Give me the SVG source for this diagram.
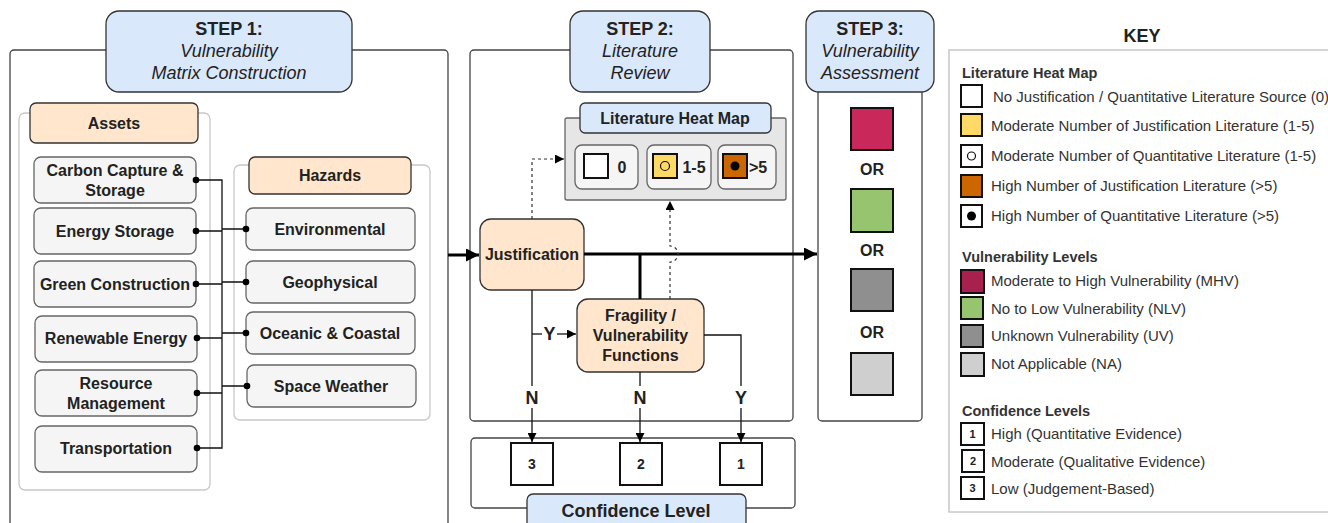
<svg xmlns="http://www.w3.org/2000/svg" width="1328" height="523" viewBox="0 0 1328 523">
<defs>
<style>
text{font-family:"Liberation Sans",Arial,sans-serif;fill:#222;}
.b{font-weight:bold;}
.hdr{fill:#dae8fc;stroke:#333;stroke-width:1.3;}
.org{fill:#ffe6cc;stroke:#333;stroke-width:1.3;}
.box{fill:#f5f5f5;stroke:#666;stroke-width:1.3;}
.grp{fill:#fff;stroke:#c8c8c8;stroke-width:1.3;}
.outer{fill:#fff;stroke:#444;stroke-width:1.3;}
.ln{fill:none;stroke:#111;stroke-width:1.3;}
.thick{fill:none;stroke:#000;stroke-width:3;}
.dash{fill:none;stroke:#333;stroke-width:1.2;stroke-dasharray:3,3;}
.sq{stroke:#111;stroke-width:2;}
.kt{font-size:15px;fill:#333;}
.kh{font-size:14.5px;font-weight:bold;fill:#333;}
</style>
<marker id="ah" viewBox="0 0 10 10" refX="10" refY="5" markerWidth="9" markerHeight="9" markerUnits="userSpaceOnUse" orient="auto"><path d="M0,0 L10,5 L0,10 z" fill="#000"/></marker>
<marker id="ahd" viewBox="0 0 10 10" refX="10" refY="5" markerWidth="9" markerHeight="9" markerUnits="userSpaceOnUse" orient="auto"><path d="M0,0 L10,5 L0,10 z" fill="#000"/></marker>
<marker id="ahb" viewBox="0 0 10 10" refX="10" refY="5" markerWidth="13" markerHeight="13" markerUnits="userSpaceOnUse" orient="auto"><path d="M0,0 L10,5 L0,10 z" fill="#000"/></marker>
</defs>
<rect width="1328" height="523" fill="#fff"/>

<!-- STEP 1 -->
<g id="step1">
<rect class="outer" x="10" y="50" width="438" height="500" rx="4"/>
<rect class="hdr" x="106" y="11" width="246" height="81" rx="13"/>
<text class="b" x="229" y="35" font-size="18" text-anchor="middle">STEP 1:</text>
<text x="229" y="57" font-size="18" font-style="italic" text-anchor="middle">Vulnerability</text>
<text x="229" y="79" font-size="18" font-style="italic" text-anchor="middle">Matrix Construction</text>
</g>

<g id="assets-group">
<rect class="grp" x="19" y="113" width="191" height="377" rx="6"/>
<rect class="org" x="30" y="103" width="168" height="40" rx="6"/>
<text class="b" x="114" y="129" font-size="16" text-anchor="middle">Assets</text>
</g>
<g id="asset-ccs"><rect class="box" x="34" y="157" width="162" height="46" rx="7"/><text class="b" x="115" y="176" font-size="16" text-anchor="middle">Carbon Capture &amp;</text><text class="b" x="115" y="196" font-size="16" text-anchor="middle">Storage</text></g>
<g id="asset-es"><rect class="box" x="34" y="208" width="162" height="46" rx="7"/><text class="b" x="115" y="237" font-size="16" text-anchor="middle">Energy Storage</text></g>
<g id="asset-gc"><rect class="box" x="34" y="261" width="162" height="46" rx="7"/><text class="b" x="115" y="290" font-size="16" text-anchor="middle">Green Construction</text></g>
<g id="asset-re"><rect class="box" x="35" y="316" width="162" height="46" rx="7"/><text class="b" x="116" y="344" font-size="16" text-anchor="middle">Renewable Energy</text></g>
<g id="asset-rm"><rect class="box" x="35" y="370" width="162" height="46" rx="7"/><text class="b" x="116" y="389" font-size="16" text-anchor="middle">Resource</text><text class="b" x="116" y="409" font-size="16" text-anchor="middle">Management</text></g>
<g id="asset-tr"><rect class="box" x="35" y="426" width="162" height="46" rx="7"/><text class="b" x="116" y="454" font-size="16" text-anchor="middle">Transportation</text></g>

<g id="hazards-group">
<rect class="grp" x="234" y="165" width="196" height="255" rx="6"/>
<rect class="org" x="249" y="157" width="162" height="37" rx="6"/>
<text class="b" x="330" y="181" font-size="16" text-anchor="middle">Hazards</text>
</g>
<g id="haz-env"><rect class="box" x="246" y="208" width="169" height="42" rx="7"/><text class="b" x="330" y="235" font-size="16" text-anchor="middle">Environmental</text></g>
<g id="haz-geo"><rect class="box" x="246" y="261" width="169" height="42" rx="7"/><text class="b" x="330" y="288" font-size="16" text-anchor="middle">Geophysical</text></g>
<g id="haz-oc"><rect class="box" x="246" y="312" width="169" height="42" rx="7"/><text class="b" x="330" y="339" font-size="16" text-anchor="middle">Oceanic &amp; Coastal</text></g>
<g id="haz-sw"><rect class="box" x="247" y="365" width="169" height="42" rx="7"/><text class="b" x="331" y="392" font-size="16" text-anchor="middle">Space Weather</text></g>

<!-- STEP 2 -->
<g id="step2">
<rect class="outer" x="470" y="50" width="323" height="371" rx="4"/>
<rect class="hdr" x="570" y="11" width="140" height="81" rx="13"/>
<text class="b" x="640" y="35" font-size="18" text-anchor="middle">STEP 2:</text>
<text x="640" y="57" font-size="18" font-style="italic" text-anchor="middle">Literature</text>
<text x="640" y="79" font-size="18" font-style="italic" text-anchor="middle">Review</text>
</g>

<g id="heatmap">
<rect x="565" y="118" width="221" height="82" rx="2" fill="#e6e6e6" stroke="#666" stroke-width="1.3"/>
<rect class="hdr" x="580" y="103" width="191" height="30" rx="5"/>
<text class="b" x="675" y="124" font-size="16" text-anchor="middle">Literature Heat Map</text>
<rect class="box" x="575" y="145" width="63" height="44" rx="7" stroke="#888"/>
<rect class="sq" x="584" y="154" width="24" height="24" fill="#fff"/>
<text class="b" x="622" y="173" font-size="16" text-anchor="middle">0</text>
<rect class="box" x="647" y="145" width="64" height="44" rx="7" stroke="#888"/>
<rect class="sq" x="653" y="154" width="24" height="24" fill="#ffd966"/>
<circle cx="665" cy="166" r="4.5" fill="none" stroke="#111" stroke-width="1.2"/>
<text class="b" x="694" y="173" font-size="16" text-anchor="middle">1-5</text>
<rect class="box" x="718" y="145" width="58" height="44" rx="7" stroke="#888"/>
<rect class="sq" x="723" y="154" width="24" height="24" fill="#cc6600"/>
<circle cx="735" cy="166" r="4.5" fill="#000"/>
<text class="b" x="758" y="173" font-size="16" text-anchor="middle">&gt;5</text>
</g>

<g id="justification"><rect class="org" x="480" y="219" width="104" height="71" rx="11"/><text class="b" x="532" y="260" font-size="16" text-anchor="middle">Justification</text></g>
<g id="fragility"><rect class="org" x="577" y="299" width="127" height="73" rx="11"/>
<text class="b" x="640.5" y="321" font-size="16" text-anchor="middle">Fragility /</text>
<text class="b" x="640.5" y="341" font-size="16" text-anchor="middle">Vulnerability</text>
<text class="b" x="640.5" y="361" font-size="16" text-anchor="middle">Functions</text></g>

<g id="confidence">
<rect class="outer" x="471" y="438" width="324" height="70" rx="4"/>
<rect class="hdr" x="527" y="494" width="219" height="40" rx="6"/>
<text class="b" x="636" y="517" font-size="18" text-anchor="middle">Confidence Level</text>
</g>
<g id="conf-3"><rect class="sq" x="511" y="443" width="42" height="42" fill="#fff" stroke-width="1.5"/><text class="b" x="532" y="469" font-size="14" text-anchor="middle">3</text></g>
<g id="conf-2"><rect class="sq" x="620" y="443" width="42" height="42" fill="#fff" stroke-width="1.5"/><text class="b" x="641" y="469" font-size="14" text-anchor="middle">2</text></g>
<g id="conf-1"><rect class="sq" x="720" y="443" width="42" height="42" fill="#fff" stroke-width="1.5"/><text class="b" x="741" y="469" font-size="14" text-anchor="middle">1</text></g>

<!-- STEP 3 -->
<g id="step3">
<rect class="outer" x="818" y="60" width="104" height="361" rx="4"/>
<rect class="hdr" x="806" y="11" width="128" height="81" rx="13"/>
<text class="b" x="870" y="35" font-size="18" text-anchor="middle">STEP 3:</text>
<text x="870" y="57" font-size="18" font-style="italic" text-anchor="middle">Vulnerability</text>
<text x="870" y="79" font-size="18" font-style="italic" text-anchor="middle">Assessment</text>
<rect class="sq" x="851" y="108" width="42" height="42" fill="#c9285a"/>
<text class="b" x="872" y="175" font-size="16" text-anchor="middle">OR</text>
<rect class="sq" x="851" y="189" width="42" height="43" fill="#97c46f"/>
<text class="b" x="872" y="256" font-size="16" text-anchor="middle">OR</text>
<rect class="sq" x="851" y="269" width="42" height="42" fill="#8f8f8f"/>
<text class="b" x="872" y="338" font-size="16" text-anchor="middle">OR</text>
<rect class="sq" x="851" y="353" width="42" height="42" fill="#cfcfcf"/>
</g>

<!-- KEY -->
<g id="key">
<text class="b" x="1142" y="42" font-size="18" text-anchor="middle">KEY</text>
<rect x="949" y="50" width="400" height="462" fill="#fff" stroke="#c8c8c8" stroke-width="1.5"/>
<text class="kh" x="962" y="78">Literature Heat Map</text>
<rect class="sq" x="961" y="85" width="21" height="22" fill="#fff"/>
<text class="kt" x="993" y="102">No Justification / Quantitative Literature Source (0)</text>
<rect class="sq" x="961" y="114" width="21" height="22" fill="#ffd966"/>
<text class="kt" x="991" y="131">Moderate Number of Justification Literature (1-5)</text>
<rect class="sq" x="961" y="145" width="21" height="22" fill="#fff"/>
<circle cx="971.5" cy="156" r="4" fill="none" stroke="#111" stroke-width="1.2"/>
<text class="kt" x="991" y="161">Moderate Number of Quantitative Literature (1-5)</text>
<rect class="sq" x="961" y="175" width="21" height="22" fill="#cc6600"/>
<text class="kt" x="991" y="191">High Number of Justification Literature (&gt;5)</text>
<rect class="sq" x="961" y="205" width="21" height="22" fill="#fff"/>
<circle cx="971.5" cy="216" r="4.5" fill="#000"/>
<text class="kt" x="991" y="221">High Number of Quantitative Literature (&gt;5)</text>

<text class="kh" x="962" y="262">Vulnerability Levels</text>
<rect class="sq" x="961" y="270" width="23" height="23" fill="#a8204e"/>
<text class="kt" x="991" y="286">Moderate to High Vulnerability (MHV)</text>
<rect class="sq" x="961" y="297" width="22" height="22" fill="#97c46f"/>
<text class="kt" x="991" y="314">No to Low Vulnerability (NLV)</text>
<rect class="sq" x="961" y="325" width="22" height="22" fill="#8f8f8f"/>
<text class="kt" x="991" y="341">Unknown Vulnerability (UV)</text>
<rect class="sq" x="961" y="353" width="23" height="23" fill="#cfcfcf"/>
<text class="kt" x="991" y="369">Not Applicable (NA)</text>

<text class="kh" x="962" y="416">Confidence Levels</text>
<rect class="sq" x="961" y="423" width="23" height="22" fill="#fff" stroke-width="1.5"/>
<text class="b" x="972.5" y="438" font-size="11" text-anchor="middle">1</text>
<text class="kt" x="991" y="439">High (Quantitative Evidence)</text>
<rect class="sq" x="962" y="450" width="22" height="22" fill="#fff" stroke-width="1.5"/>
<text class="b" x="973" y="465" font-size="11" text-anchor="middle">2</text>
<text class="kt" x="991" y="467">Moderate (Qualitative Evidence)</text>
<rect class="sq" x="961" y="477" width="23" height="22" fill="#fff" stroke-width="1.5"/>
<text class="b" x="972.5" y="492" font-size="11" text-anchor="middle">3</text>
<text class="kt" x="991" y="494">Low (Judgement-Based)</text>
</g>

<!-- CONNECTORS -->
<g id="connectors">
<path class="ln" d="M196,180 H222 V448 H197"/>
<path class="ln" d="M196,231 H222 M196,284 H222 M197,338 H222 M197,393 H222"/>
<path class="ln" d="M222,229 H246 M222,282 H246 M222,333 H246 M222,386 H247"/>
<g fill="#000">
<circle cx="196" cy="180" r="3.3"/><circle cx="196" cy="231" r="3.3"/><circle cx="196" cy="284" r="3.3"/>
<circle cx="197" cy="338" r="3.3"/><circle cx="197" cy="393" r="3.3"/><circle cx="197" cy="448" r="3.3"/>
<circle cx="246" cy="229" r="3.3"/><circle cx="246" cy="282" r="3.3"/><circle cx="246" cy="333" r="3.3"/><circle cx="247" cy="386" r="3.3"/>
</g>
<path class="thick" d="M448,255 H479" marker-end="url(#ahb)"/>
<path class="thick" d="M584,254 H817" marker-end="url(#ahb)"/>
<path class="thick" d="M640,254 V299"/>
<path class="dash" d="M532,219 V159 H564" marker-end="url(#ahd)"/>
<path class="dash" d="M670,299 V262 A8,8 0 0 0 670,246 V201" marker-end="url(#ahd)"/>
<path class="ln" d="M532,290 V386"/>
<path class="ln" d="M532,408 V442" marker-end="url(#ah)"/>
<text class="b" x="532" y="404" font-size="18" text-anchor="middle" fill="#000">N</text>
<path class="ln" d="M532,334 H542"/>
<path class="ln" d="M557,334 H576" marker-end="url(#ah)"/>
<text class="b" x="549.5" y="340" font-size="18" text-anchor="middle" fill="#000">Y</text>
<path class="ln" d="M640,372 V386"/>
<path class="ln" d="M640,408 V442" marker-end="url(#ah)"/>
<text class="b" x="640" y="404" font-size="18" text-anchor="middle" fill="#000">N</text>
<path class="ln" d="M704,335 H741 V386"/>
<path class="ln" d="M741,408 V442" marker-end="url(#ah)"/>
<text class="b" x="741" y="404" font-size="18" text-anchor="middle" fill="#000">Y</text>
</g>
</svg>
